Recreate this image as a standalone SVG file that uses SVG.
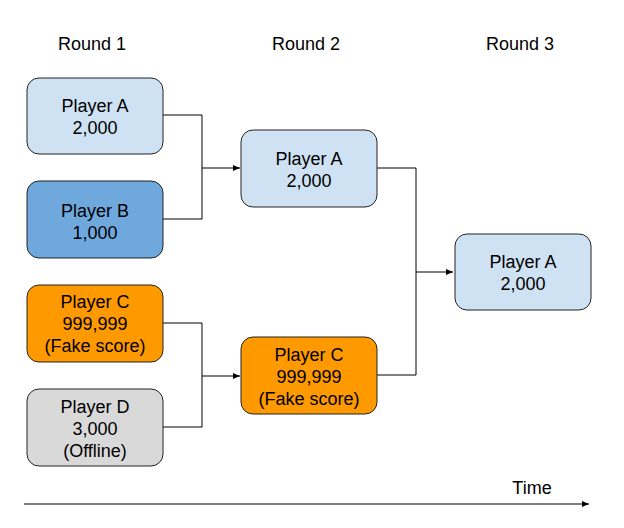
<svg xmlns="http://www.w3.org/2000/svg" width="624" height="528" viewBox="0 0 624 528">
<style>
text{font-family:"Liberation Sans",Arial,sans-serif;font-size:18px;fill:#000;text-anchor:middle}
.n{stroke:#222;stroke-width:1}
.lb{fill:#cfe2f3}.bl{fill:#6fa8dc}.or{fill:#ff9900}.gr{fill:#d9d9d9}
.c{fill:none;stroke:#000;stroke-width:1}
</style>
<defs>
<marker id="ar" markerWidth="8" markerHeight="6" refX="7" refY="3" orient="auto" markerUnits="userSpaceOnUse">
<path d="M0,0 L7,3 L0,6 z" fill="#000"/>
</marker>
</defs>
<rect width="624" height="528" fill="#fff"/>
<g id="labels">
<text x="92" y="50">Round 1</text>
<text x="306" y="50">Round 2</text>
<text x="520" y="50">Round 3</text>
<text x="532" y="494">Time</text>
</g>
<g id="connectors">
<path class="c" d="M163,115 H202 V219 H163"/>
<path class="c" d="M202,168 H240" marker-end="url(#ar)"/>
<path class="c" d="M163,323 H202 V427 H163"/>
<path class="c" d="M202,376 H240" marker-end="url(#ar)"/>
<path class="c" d="M377,168 H416 V375 H377"/>
<path class="c" d="M416,272 H453" marker-end="url(#ar)"/>
<path class="c" d="M24,504 H589" marker-end="url(#ar)"/>
</g>
<g id="r1a"><rect class="n lb" x="27" y="78" width="136" height="76" rx="12"/><text x="95" y="112">Player A</text><text x="95" y="134">2,000</text></g>
<g id="r1b"><rect class="n bl" x="27" y="181" width="136" height="77" rx="12"/><text x="95" y="217">Player B</text><text x="95" y="239">1,000</text></g>
<g id="r1c"><rect class="n or" x="27" y="285" width="136" height="77" rx="12"/><text x="95" y="308">Player C</text><text x="95" y="330">999,999</text><text x="95" y="352">(Fake score)</text></g>
<g id="r1d"><rect class="n gr" x="27" y="389" width="136" height="77" rx="12"/><text x="95" y="413">Player D</text><text x="95" y="435">3,000</text><text x="95" y="457">(Offline)</text></g>
<g id="r2a"><rect class="n lb" x="241" y="130" width="136" height="77" rx="12"/><text x="309" y="165">Player A</text><text x="309" y="187">2,000</text></g>
<g id="r2c"><rect class="n or" x="241" y="337" width="136" height="77" rx="12"/><text x="309" y="361">Player C</text><text x="309" y="383">999,999</text><text x="309" y="405">(Fake score)</text></g>
<g id="r3a"><rect class="n lb" x="455" y="234" width="136" height="76" rx="12"/><text x="523" y="268">Player A</text><text x="523" y="290">2,000</text></g>
</svg>
